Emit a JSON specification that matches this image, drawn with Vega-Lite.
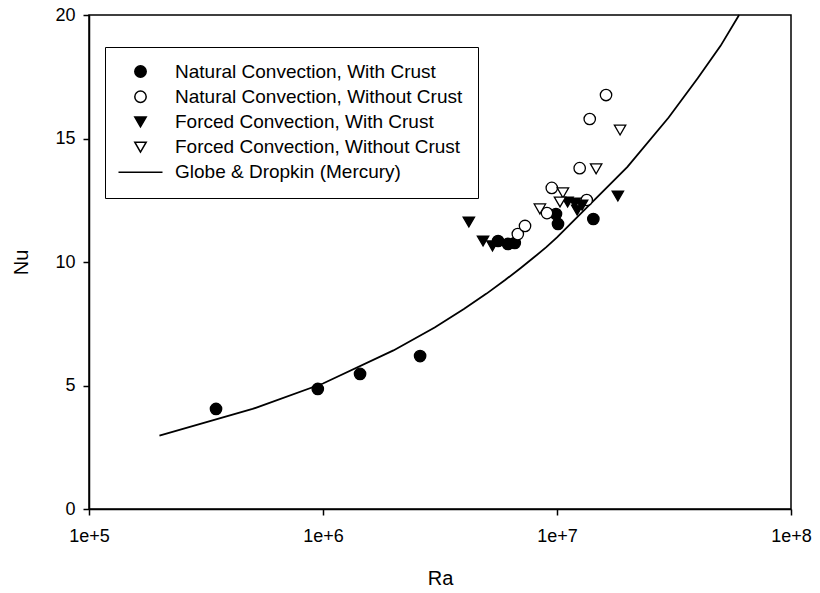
{
  "$schema": "https://vega.github.io/schema/vega-lite/v6.json",
  "autosize": "none",
  "width": 702,
  "height": 494,
  "padding": {"left": 89, "top": 15, "right": 29, "bottom": 84},
  "background": "white",
  "config": {
    "font": "Liberation Sans",
    "view": {"stroke": "black", "strokeWidth": 1.5},
    "axis": {
      "grid": false,
      "domainColor": "black",
      "domainWidth": 1.5,
      "tickColor": "black",
      "tickWidth": 1.5,
      "tickSize": 6,
      "labelColor": "black",
      "labelFont": "Liberation Sans",
      "labelFontSize": 18,
      "labelFlush": false,
      "titleColor": "black",
      "titleFont": "Liberation Sans",
      "titleFontSize": 20,
      "titleFontWeight": "normal"
    },
    "legend": {
      "labelFont": "Liberation Sans",
      "labelLimit": 400,
      "orient": "none",
      "legendX": 16,
      "legendY": 32,
      "strokeColor": "black",
      "padding": 15,
      "labelFontSize": 19,
      "labelColor": "black",
      "symbolSize": 130,
      "symbolStrokeColor": "black",
      "symbolStrokeWidth": 1.5,
      "symbolOffset": 11,
      "labelOffset": 25,
      "rowPadding": 5.2
    }
  },
  "datasets": {
    "pts": [
      {"series": "Natural Convection, With Crust", "Ra": 349000, "Nu": 4.05},
      {"series": "Natural Convection, With Crust", "Ra": 950000, "Nu": 4.86},
      {"series": "Natural Convection, With Crust", "Ra": 1440000, "Nu": 5.47},
      {"series": "Natural Convection, With Crust", "Ra": 2600000, "Nu": 6.19},
      {"series": "Natural Convection, With Crust", "Ra": 5600000, "Nu": 10.85},
      {"series": "Natural Convection, With Crust", "Ra": 6170000, "Nu": 10.73},
      {"series": "Natural Convection, With Crust", "Ra": 6600000, "Nu": 10.77},
      {"series": "Natural Convection, With Crust", "Ra": 9900000, "Nu": 11.94},
      {"series": "Natural Convection, With Crust", "Ra": 10100000, "Nu": 11.54},
      {"series": "Natural Convection, With Crust", "Ra": 14300000, "Nu": 11.74},
      {"series": "Natural Convection, Without Crust", "Ra": 6800000, "Nu": 11.13},
      {"series": "Natural Convection, Without Crust", "Ra": 7300000, "Nu": 11.46},
      {"series": "Natural Convection, Without Crust", "Ra": 9060000, "Nu": 11.98},
      {"series": "Natural Convection, Without Crust", "Ra": 9500000, "Nu": 13.0},
      {"series": "Natural Convection, Without Crust", "Ra": 13400000, "Nu": 12.51},
      {"series": "Natural Convection, Without Crust", "Ra": 12500000, "Nu": 13.8},
      {"series": "Natural Convection, Without Crust", "Ra": 13800000, "Nu": 15.79},
      {"series": "Natural Convection, Without Crust", "Ra": 16200000, "Nu": 16.76},
      {"series": "Forced Convection, With Crust", "Ra": 4200000, "Nu": 11.62},
      {"series": "Forced Convection, With Crust", "Ra": 4830000, "Nu": 10.85},
      {"series": "Forced Convection, With Crust", "Ra": 5300000, "Nu": 10.65},
      {"series": "Forced Convection, With Crust", "Ra": 11100000, "Nu": 12.43},
      {"series": "Forced Convection, With Crust", "Ra": 11900000, "Nu": 12.39},
      {"series": "Forced Convection, With Crust", "Ra": 12200000, "Nu": 12.1},
      {"series": "Forced Convection, With Crust", "Ra": 12800000, "Nu": 12.3},
      {"series": "Forced Convection, With Crust", "Ra": 18200000, "Nu": 12.67},
      {"series": "Forced Convection, Without Crust", "Ra": 8450000, "Nu": 12.15},
      {"series": "Forced Convection, Without Crust", "Ra": 10600000, "Nu": 12.8},
      {"series": "Forced Convection, Without Crust", "Ra": 10300000, "Nu": 12.43},
      {"series": "Forced Convection, Without Crust", "Ra": 14700000, "Nu": 13.77},
      {"series": "Forced Convection, Without Crust", "Ra": 18600000, "Nu": 15.34}
    ],
    "curve": [
      {"Ra": 200000, "Nu": 2.97},
      {"Ra": 500000, "Nu": 4.05},
      {"Ra": 1000000, "Nu": 5.08},
      {"Ra": 2000000, "Nu": 6.42},
      {"Ra": 3000000, "Nu": 7.35},
      {"Ra": 4000000, "Nu": 8.1},
      {"Ra": 5000000, "Nu": 8.72},
      {"Ra": 6000000, "Nu": 9.27},
      {"Ra": 7000000, "Nu": 9.76},
      {"Ra": 8000000, "Nu": 10.2},
      {"Ra": 9000000, "Nu": 10.6},
      {"Ra": 10000000, "Nu": 11.0},
      {"Ra": 20000000, "Nu": 13.85},
      {"Ra": 30000000, "Nu": 15.85},
      {"Ra": 40000000, "Nu": 17.45},
      {"Ra": 50000000, "Nu": 18.75},
      {"Ra": 60000000, "Nu": 20.0}
    ]
  },
  "layer": [
    {
      "data": {"name": "curve"},
      "mark": {"type": "line", "color": "black", "strokeWidth": 1.8},
      "encoding": {
        "x": {"field": "Ra", "type": "quantitative"},
        "y": {"field": "Nu", "type": "quantitative"}
      }
    },
    {
      "data": {"name": "pts"},
      "mark": {"type": "point", "filled": true, "strokeWidth": 1.3, "size": 130, "opacity": 1},
      "encoding": {
        "x": {
          "field": "Ra", "type": "quantitative",
          "scale": {"type": "log", "domain": [100000, 100000000], "nice": false},
          "axis": {"values": [100000, 1000000, 10000000, 100000000], "labelExpr": "'1e+' + round(log(datum.value)/LN10)", "labelPadding": 12, "title": "Ra", "titleY": 69, "titleBaseline": "middle"}
        },
        "y": {
          "field": "Nu", "type": "quantitative",
          "scale": {"domain": [0, 20], "nice": false},
          "axis": {"values": [0, 5, 10, 15, 20], "labelPadding": 8, "title": "Nu", "titleX": -68, "titleBaseline": "middle"}
        },
        "fill": {
          "field": "series", "type": "nominal",
          "scale": {
            "domain": ["Natural Convection, With Crust", "Natural Convection, Without Crust", "Forced Convection, With Crust", "Forced Convection, Without Crust", "Globe & Dropkin (Mercury)"],
            "range": ["black", "white", "black", "white", "transparent"]
          },
          "legend": {"title": null}
        },
        "stroke": {
          "field": "series", "type": "nominal",
          "scale": {
            "domain": ["Natural Convection, With Crust", "Natural Convection, Without Crust", "Forced Convection, With Crust", "Forced Convection, Without Crust", "Globe & Dropkin (Mercury)"],
            "range": ["black", "black", "black", "black", "black"]
          },
          "legend": {"title": null}
        },
        "shape": {
          "field": "series", "type": "nominal",
          "scale": {
            "domain": ["Natural Convection, With Crust", "Natural Convection, Without Crust", "Forced Convection, With Crust", "Forced Convection, Without Crust", "Globe & Dropkin (Mercury)"],
            "range": ["circle", "circle", "triangle-down", "triangle-down", "M-3.86,0H3.86"]
          },
          "legend": {"title": null}
        }
      }
    }
  ]
}
